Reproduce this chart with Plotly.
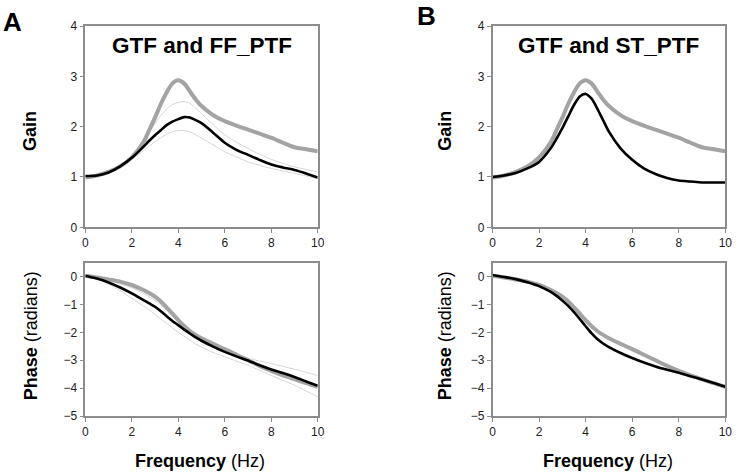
import plotly.graph_objects as go

# ---------------- data ----------------
freq = [0, 0.5, 1, 1.5, 2, 2.5, 2.75, 3, 3.25, 3.5, 3.75, 4, 4.25, 4.5, 4.75, 5,
        5.5, 6, 6.5, 7, 7.5, 8, 8.5, 9, 9.5, 10]

gtf_gain = [0.99, 1.03, 1.10, 1.21, 1.39, 1.69, 1.93, 2.18, 2.45, 2.68, 2.86, 2.92, 2.86, 2.70, 2.54, 2.41,
            2.23, 2.11, 2.02, 1.94, 1.86, 1.78, 1.68, 1.59, 1.55, 1.51]
ff_gain = [1.02, 1.03, 1.09, 1.21, 1.38, 1.60, 1.72, 1.83, 1.93, 2.03, 2.10, 2.15, 2.19, 2.18, 2.13, 2.07,
           1.88, 1.68, 1.54, 1.44, 1.34, 1.25, 1.19, 1.14, 1.07, 0.99]
ff_gain_hi = [1.02, 1.04, 1.11, 1.23, 1.43, 1.74, 1.90, 2.06, 2.22, 2.35, 2.44, 2.48, 2.50, 2.46, 2.37, 2.26,
              2.04, 1.84, 1.69, 1.57, 1.45, 1.35, 1.27, 1.20, 1.15, 1.10]
ff_gain_lo = [1.00, 1.02, 1.08, 1.19, 1.35, 1.52, 1.61, 1.70, 1.78, 1.85, 1.90, 1.92, 1.92, 1.90, 1.84, 1.77,
              1.64, 1.50, 1.40, 1.30, 1.23, 1.17, 1.12, 1.07, 1.02, 0.97]
st_gain = [1.00, 1.03, 1.08, 1.17, 1.30, 1.57, 1.76, 1.97, 2.20, 2.43, 2.60, 2.65, 2.56, 2.36, 2.13, 1.90,
           1.57, 1.34, 1.17, 1.06, 0.98, 0.93, 0.91, 0.89, 0.89, 0.89]

gtf_phase = [0.03, -0.03, -0.10, -0.18, -0.30, -0.48, -0.59, -0.72, -0.89, -1.10, -1.33, -1.56, -1.77, -1.95, -2.09, -2.21,
             -2.41, -2.60, -2.80, -3.00, -3.20, -3.38, -3.54, -3.68, -3.82, -3.95]
ff_phase = [0.03, -0.07, -0.21, -0.39, -0.60, -0.84, -0.96, -1.08, -1.24, -1.42, -1.59, -1.74, -1.90, -2.04, -2.18, -2.30,
            -2.51, -2.70, -2.86, -3.01, -3.18, -3.33, -3.46, -3.60, -3.76, -3.92]
ff_phase_hi = [0.03, -0.05, -0.14, -0.26, -0.40, -0.60, -0.72, -0.85, -1.02, -1.20, -1.40, -1.60, -1.78, -1.95, -2.08, -2.20,
               -2.42, -2.60, -2.77, -2.92, -3.03, -3.12, -3.22, -3.32, -3.43, -3.55]
ff_phase_lo = [0.03, -0.10, -0.27, -0.50, -0.78, -1.05, -1.20, -1.36, -1.52, -1.68, -1.84, -2.00, -2.14, -2.28, -2.42, -2.53,
               -2.72, -2.88, -3.03, -3.18, -3.36, -3.54, -3.72, -3.89, -4.10, -4.31]
st_phase = [0.06, -0.01, -0.09, -0.20, -0.34, -0.55, -0.69, -0.86, -1.05, -1.27, -1.52, -1.78, -2.03, -2.24, -2.40, -2.53,
            -2.74, -2.92, -3.08, -3.22, -3.34, -3.45, -3.57, -3.69, -3.82, -3.95]

x_ticks = [0, 2, 4, 6, 8, 10]
gain_ticks = [0, 1, 2, 3, 4]
phase_ticks = [0, -1, -2, -3, -4, -5]

# ---------------- figure ----------------
W, H = 741, 476
GRAY = "#a3a3a3"
THIN = "#d6d6d6"
AX = "#8c8c8c"

fig = go.Figure()

def add(x, y, xa, ya, color, width):
    fig.add_trace(go.Scatter(x=x, y=y, xaxis=xa, yaxis=ya, mode="lines",
                             line=dict(color=color, width=width, shape="spline", smoothing=0.8),
                             showlegend=False, hoverinfo="skip"))

# Panel A gain
add(freq, ff_gain_hi, "x", "y", THIN, 1)
add(freq, ff_gain_lo, "x", "y", THIN, 1)
add(freq, gtf_gain, "x", "y", GRAY, 4)
add(freq, ff_gain, "x", "y", "black", 2.6)
# Panel A phase
add(freq, ff_phase_hi, "x2", "y2", THIN, 1)
add(freq, ff_phase_lo, "x2", "y2", THIN, 1)
add(freq, gtf_phase, "x2", "y2", GRAY, 4)
add(freq, ff_phase, "x2", "y2", "black", 2.6)
# Panel B gain
add(freq, gtf_gain, "x3", "y3", GRAY, 4)
add(freq, st_gain, "x3", "y3", "black", 2.6)
# Panel B phase
add(freq, gtf_phase, "x4", "y4", GRAY, 4)
add(freq, st_phase, "x4", "y4", "black", 2.6)

xA = [85.3 / W, 317.7 / W]
xB = [492.5 / W, 725.3 / W]
yTop = [1 - 227.3 / H, 1 - 26 / H]
yBot = [1 - 416 / H, 1 - 262.7 / H]

font_main = "Liberation Sans, Arial, sans-serif"
tickfont = dict(family=font_main, size=12, color="#222")

def xaxis(domain, anchor):
    return dict(domain=domain, anchor=anchor, range=[0, 10], tickvals=x_ticks,
                showline=True, linecolor=AX, linewidth=1.5, mirror=True, automargin=False,
                ticks="outside", ticklen=4, tickcolor=AX, showgrid=False, zeroline=False,
                tickfont=tickfont, fixedrange=True)

def yaxis(domain, anchor, rng, tv):
    return dict(domain=domain, anchor=anchor, range=rng, tickvals=tv,
                showline=True, linecolor=AX, linewidth=1.5, mirror=True, automargin=False,
                ticks="outside", ticklen=4, tickcolor=AX, showgrid=False, zeroline=False,
                tickfont=tickfont, fixedrange=True)

fig.update_layout(
    width=W, height=H, margin=dict(l=0, r=0, t=0, b=0, pad=0, autoexpand=False),
    paper_bgcolor="white", plot_bgcolor="white",
    xaxis=xaxis(xA, "y"), yaxis=yaxis(yTop, "x", [0, 4], gain_ticks),
    xaxis2=xaxis(xA, "y2"), yaxis2=yaxis(yBot, "x2", [-5, 0.5], phase_ticks),
    xaxis3=xaxis(xB, "y3"), yaxis3=yaxis(yTop, "x3", [0, 4], gain_ticks),
    xaxis4=xaxis(xB, "y4"), yaxis4=yaxis(yBot, "x4", [-5, 0.5], phase_ticks),
)

def ann(text, x, y, size, angle=0):
    fig.add_annotation(text=text, x=x / W, y=1 - y / H, xref="paper", yref="paper",
                       showarrow=False, textangle=angle, xanchor="center", yanchor="middle",
                       font=dict(family=font_main, size=size, color="black"))

ann("<b>A</b>", 12.5, 22, 26)
ann("<b>B</b>", 426, 16, 26)
ann("<b>GTF and FF_PTF</b>", 201.7, 45, 22.5)
ann("<b>GTF and ST_PTF</b>", 608.3, 45, 22.5)
ann("<b>Gain</b>", 30, 131, 18, angle=-90)
ann("<b>Gain</b>", 444.7, 131, 18, angle=-90)
ann("<b>Phase</b> (radians)", 31, 336.3, 18, angle=-90)
ann("<b>Phase</b> (radians)", 445, 336.3, 18, angle=-90)
ann("<b>Frequency</b> (Hz)", 199.5, 461, 18)
ann("<b>Frequency</b> (Hz)", 608.3, 461, 18)

fig.write_html("out.html", config={"displayModeBar": False},
               post_script="document.body.style.margin='0';document.body.style.overflow='hidden';")
